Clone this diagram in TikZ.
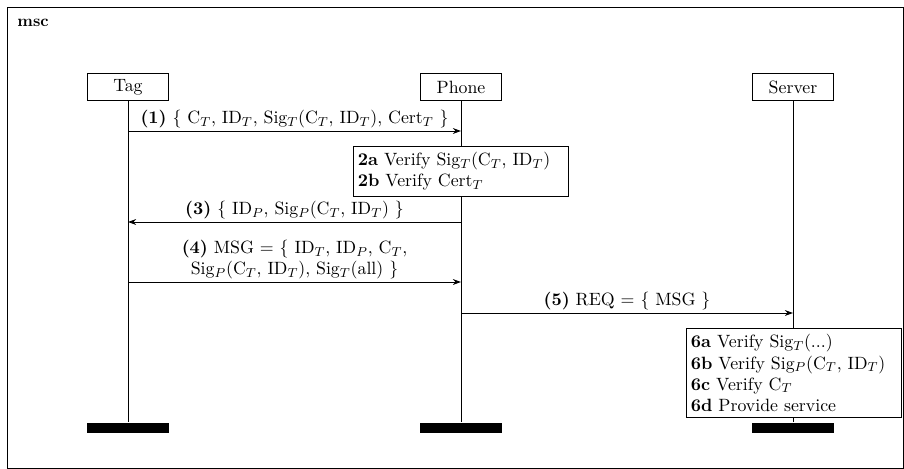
\documentclass[tikz,border=0pt]{standalone}
\usetikzlibrary{arrows.meta,positioning}

\begin{document}
\begin{tikzpicture}[
  x=0.615pt, y=-0.615pt,
  line width=0.6pt,
  font=\fontsize{10.95}{13}\selectfont,
  instance/.style={draw, minimum width=50.4pt, minimum height=17.2pt, inner sep=0pt},
  foot/.style={fill=black, minimum width=50pt, minimum height=6.2pt, inner sep=0pt},
  msg/.style={-{Stealth[length=5pt,width=3.6pt,inset=1.6pt]}},
  msglabel/.style={above, inner sep=1.5pt, align=center},
  action/.style={draw, fill=white, text width=126.8pt, align=left,
                 inner xsep=3pt, inner ysep=3.5pt}
]
\useasboundingbox (0,0) rectangle (904,469);

% Frame and title
\draw (7,7) rectangle (903,468);
\node[font=\bfseries, anchor=base west, inner sep=0pt] (title) at (17,26) {msc};

% Instance heads
\node[instance] (tag) at (128,87) {Tag};
\node[instance] (phone) at (461,87) {Phone};
\node[instance] (server) at (793,87) {Server};

% Instance feet
\node[foot] (tagfoot) at (128,428) {};
\node[foot] (phonefoot) at (461,428) {};
\node[foot] (serverfoot) at (793,428) {};

% Lifelines
\draw (tag) -- (tagfoot);
\draw (phone) -- (phonefoot);
\draw (server) -- (serverfoot);

% Message points
\coordinate (t1) at (128,131);
\coordinate (p1) at (461,131);
\coordinate (p3) at (461,222);
\coordinate (t3) at (128,222);
\coordinate (t4) at (128,282);
\coordinate (p4) at (461,282);
\coordinate (p5) at (461,313);
\coordinate (s5) at (793,313);

% Messages
\draw[msg] (t1) -- node[msglabel] {\textbf{(1)} \{ C$_T$, ID$_T$, Sig$_T$(C$_T$, ID$_T$), Cert$_T$ \}} (p1);
\draw[msg] (p3) -- node[msglabel] {\textbf{(3)} \{ ID$_P$, Sig$_P$(C$_T$, ID$_T$) \}} (t3);
\draw[msg] (t4) -- node[msglabel] {\textbf{(4)} MSG $=$ \{ ID$_T$, ID$_P$, C$_T$,\\
  Sig$_P$(C$_T$, ID$_T$), Sig$_T$(all) \}} (p4);
\draw[msg] (p5) -- node[msglabel] {\textbf{(5)} REQ $=$ \{ MSG \}} (s5);

% Actions
\node[action] (verify2) at (461,171.5) {\textbf{2a} Verify Sig$_T$(C$_T$, ID$_T$)\\
  \textbf{2b} Verify Cert$_T$};
\node[action] (verify6) at (794,373) {\textbf{6a} Verify Sig$_T$(...)\\
  \textbf{6b} Verify Sig$_P$(C$_T$, ID$_T$)\\
  \textbf{6c} Verify C$_T$\\
  \textbf{6d} Provide service};

\end{tikzpicture}
\end{document}
